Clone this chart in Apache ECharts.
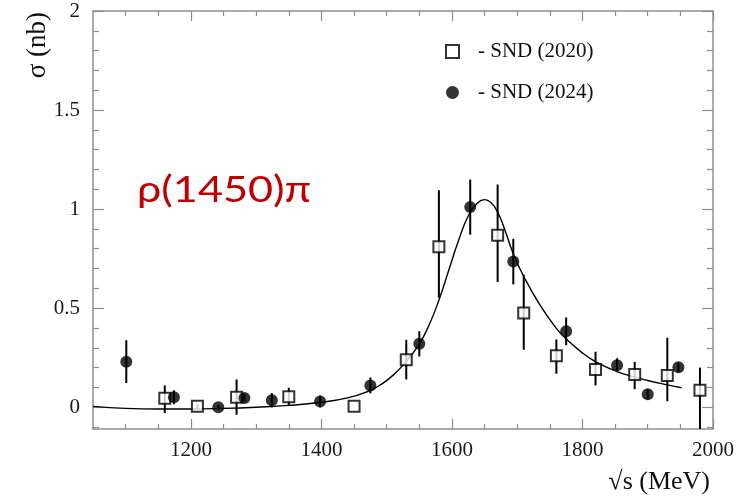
<!DOCTYPE html>
<html>
<head>
<meta charset="utf-8">
<script src="https://cdn.jsdelivr.net/npm/echarts@6/dist/echarts.min.js"></script>
<style>html,body{margin:0;padding:0;background:#fff;}#chart{width:755px;height:496px;}</style>
</head>
<body>
<div id="chart"></div>
<script>
// ---- data ----
const xMajorTicks = [1200, 1400, 1600, 1800, 2000];
const xMinorTicks = [1100, 1150, 1250, 1300, 1350, 1450, 1500, 1550, 1650, 1700, 1750, 1850, 1900, 1950];
const yMajorTicks = [0, 0.5, 1, 1.5, 2];
const yMinorTicks = [-0.1, 0.1, 0.2, 0.3, 0.4, 0.6, 0.7, 0.8, 0.9, 1.1, 1.2, 1.3, 1.4, 1.6, 1.7, 1.8, 1.9];

const snd2020X     = [1160, 1210, 1270, 1350, 1450, 1530, 1580, 1670, 1710, 1760, 1820, 1880, 1930, 1980];
const snd2020Y     = [0.045, 0.005, 0.05, 0.053, 0.005, 0.24, 0.81, 0.868, 0.475, 0.26, 0.19, 0.165, 0.16, 0.085];
const snd2020ErrLo = [0.075, 0.012, 0.088, 0.043, 0.0, 0.10, 0.257, 0.236, 0.185, 0.091, 0.08, 0.074, 0.13, 0.25];
const snd2020ErrHi = [0.065, 0.012, 0.09, 0.045, 0.0, 0.10, 0.285, 0.256, 0.194, 0.082, 0.09, 0.064, 0.191, 0.115];

const snd2024X   = [1101, 1174, 1242, 1282, 1324, 1398, 1475, 1550, 1628, 1694, 1775, 1853, 1900, 1947];
const snd2024Y   = [0.23, 0.05, 0.0, 0.047, 0.035, 0.029, 0.11, 0.32, 1.01, 0.735, 0.383, 0.212, 0.066, 0.202];
const snd2024Err = [0.108, 0.035, 0.01, 0.02, 0.036, 0.03, 0.04, 0.064, 0.139, 0.115, 0.07, 0.035, 0.025, 0.025];

const fitX = [1050, 1100, 1150, 1200, 1250, 1300, 1350, 1400, 1440, 1470, 1490, 1510, 1530, 1550, 1565, 1580, 1595, 1610, 1625, 1640, 1650, 1660, 1670, 1680, 1694, 1710, 1735, 1760, 1775, 1797, 1820, 1853, 1880, 1900, 1930, 1952];
const fitY = [0.004, -0.006, -0.009, -0.009, -0.006, 0.0, 0.009, 0.025, 0.047, 0.078, 0.112, 0.162, 0.232, 0.32, 0.415, 0.54, 0.69, 0.84, 0.965, 1.033, 1.048, 1.032, 0.985, 0.905, 0.775, 0.66, 0.515, 0.398, 0.345, 0.282, 0.23, 0.18, 0.152, 0.135, 0.113, 0.098];

const X_MIN = 1050, X_MAX = 2000, Y_MIN = -0.11, Y_MAX = 2;

// ---- build ----
const serif = 'Liberation Serif';
const frameColor = '#8f8f8f';
const zip2 = (a, b) => a.map((v, i) => [v, b[i]]);

function xAx(pos, ticks, len, showLine, showLabel) {
  return {
    type: 'value', min: X_MIN, max: X_MAX, position: pos, offset: 0,
    axisLine: { show: showLine, onZero: false, lineStyle: { color: frameColor, width: 1.5 } },
    axisTick: { show: true, inside: true, length: len, customValues: ticks, lineStyle: { color: frameColor, width: 1.2 } },
    axisLabel: showLabel ? { show: true, customValues: ticks, margin: 11, fontFamily: serif, fontSize: 21, color: '#1a1a1a',
      formatter: v => String(v) } : { show: false },
    splitLine: { show: false }
  };
}
function yAx(pos, ticks, len, showLine, showLabel) {
  return {
    type: 'value', min: Y_MIN, max: Y_MAX, position: pos, offset: 0,
    axisLine: { show: showLine, onZero: false, lineStyle: { color: frameColor, width: 1.5 } },
    axisTick: { show: true, inside: true, length: len, customValues: ticks, lineStyle: { color: frameColor, width: 1.2 } },
    axisLabel: showLabel ? { show: true, customValues: ticks, margin: 13, fontFamily: serif, fontSize: 21, color: '#1a1a1a',
      formatter: v => String(v) } : { show: false },
    splitLine: { show: false }
  };
}

function errRender(params, api) {
  const x = api.value(0);
  const lo = Math.max(api.value(1), Y_MIN);
  const hi = Math.min(api.value(2), Y_MAX);
  const p1 = api.coord([x, lo]);
  const p2 = api.coord([x, hi]);
  return { type: 'line', shape: { x1: p1[0], y1: p1[1], x2: p2[0], y2: p2[1] }, style: { stroke: '#000', lineWidth: 2 } };
}

const err2020 = snd2020X.map((x, i) => [x, snd2020Y[i] - snd2020ErrLo[i], snd2020Y[i] + snd2020ErrHi[i]]);
const err2024 = snd2024X.map((x, i) => [x, snd2024Y[i] - snd2024Err[i], snd2024Y[i] + snd2024Err[i]]);

const chart = echarts.init(document.getElementById('chart'), null, { renderer: 'canvas' });
chart.setOption({
  animation: false,
  backgroundColor: '#fff',
  grid: { left: 93, top: 11, width: 620, height: 418, containLabel: false },
  xAxis: [
    xAx('bottom', xMajorTicks, 10, true, true),
    xAx('bottom', xMinorTicks, 5, false, false),
    xAx('top', xMajorTicks, 10, true, false),
    xAx('top', xMinorTicks, 5, false, false)
  ],
  yAxis: [
    yAx('left', yMajorTicks, 11, true, true),
    yAx('left', yMinorTicks, 6, false, false),
    yAx('right', yMajorTicks, 11, true, false),
    yAx('right', yMinorTicks, 6, false, false)
  ],
  legend: {
    orient: 'vertical', left: 440, top: 36, itemWidth: 13, itemHeight: 13, itemGap: 20,
    data: [{ name: 'SND (2020)', icon: 'rect' }, { name: 'SND (2024)', icon: 'circle' }],
    formatter: n => '- ' + n,
    textStyle: { fontFamily: serif, fontSize: 21, color: '#111', padding: [0, 0, 0, 14] },
    selectedMode: false
  },
  graphic: [
    { type: 'text', x: 137, y: 172, scaleX: 1.2, style: { text: 'ρ(1450)π', font: '36px Lato', fill: '#c00000' } },
    { type: 'text', x: 710, y: 482, style: { text: '√s (MeV)', font: '26px "Liberation Serif"', fill: '#111', align: 'right', verticalAlign: 'middle' } },
    { type: 'text', x: 37.5, y: 12, rotation: Math.PI / 2, style: { text: 'σ (nb)', font: '27px "Liberation Serif"', fill: '#111', align: 'right', verticalAlign: 'middle' } }
  ],
  series: [
    { type: 'custom', name: 'err2020', renderItem: errRender, data: err2020, encode: { x: 0, y: [1, 2] }, z: 1, silent: true },
    { type: 'custom', name: 'err2024', renderItem: errRender, data: err2024, encode: { x: 0, y: [1, 2] }, z: 1, silent: true },
    { type: 'line', name: 'fit', data: zip2(fitX, fitY), showSymbol: false, smooth: 0.5,
      lineStyle: { color: '#000', width: 1.4 }, z: 2, silent: true },
    { type: 'scatter', name: 'SND (2020)', data: zip2(snd2020X, snd2020Y), symbol: 'rect', symbolSize: 11,
      itemStyle: { color: '#fff', borderColor: '#000', borderWidth: 2 }, z: 3 },
    { type: 'scatter', name: 'SND (2024)', data: zip2(snd2024X, snd2024Y), symbol: 'circle', symbolSize: 12,
      itemStyle: { color: '#000' }, z: 4 }
  ]
});
</script>
</body>
</html>
